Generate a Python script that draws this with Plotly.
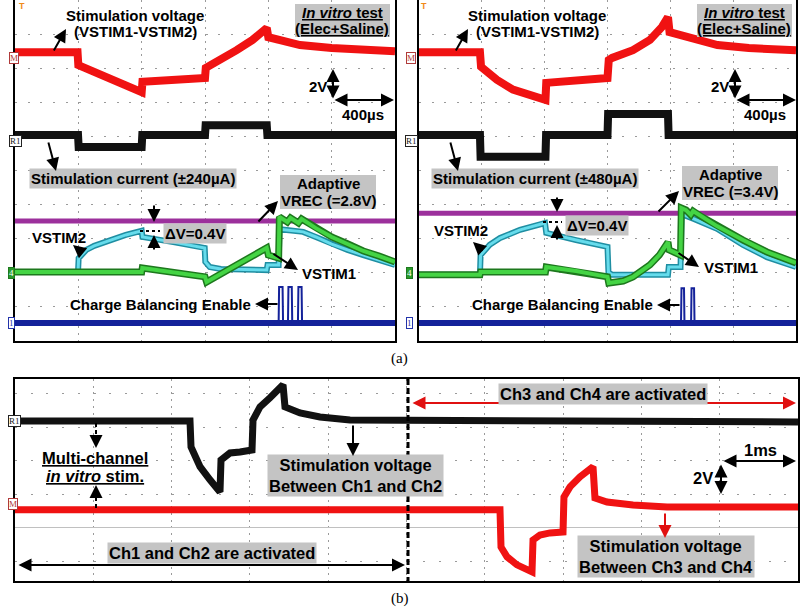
import plotly.graph_objects as go

W, H = 800, 608
SANS = "Liberation Sans, Arial, sans-serif"
SERIF = "Liberation Serif, Times New Roman, serif"
GREY_BOX = "#c4c4c4"

# ---------- (a) left panel : +-240uA   (time in us, level in scope divisions)
t_span = [0, 2400]

t_a1_vout = [0, 395, 400, 500, 600, 700, 800, 805, 1000, 1200, 1205, 1300, 1400, 1500, 1590,
             1600, 1700, 1800, 2000, 2200, 2400]
v_a1_vout = [8.47, 8.47, 8.09, 7.89, 7.71, 7.51, 7.30, 7.60, 7.65, 7.71, 8.01, 8.24, 8.53, 8.83, 9.18,
             8.91, 8.77, 8.68, 8.59, 8.53, 8.50]

t_a1_cur = [0, 398, 402, 800, 804, 1200, 1204, 1590, 1594, 2400]
v_a1_cur = [6.04, 6.04, 5.69, 5.69, 6.04, 6.04, 6.33, 6.33, 6.04, 6.04]

v_a1_vrec = 3.52

t_a1_vstim2 = [0, 398, 402, 450, 500, 600, 700, 800, 805, 1000, 1198, 1202, 1230, 1300, 1590, 1595,
               1665, 1670, 1820, 1900, 2000, 2100, 2200, 2300, 2400]
v_a1_vstim2 = [2.02, 2.02, 2.43, 2.67, 2.79, 2.96, 3.11, 3.23, 3.05, 2.90, 2.73, 2.32, 2.17, 2.11, 2.08, 2.23,
               2.23, 3.28, 3.20, 3.05, 2.84, 2.67, 2.52, 2.38, 2.23]

t_a1_vstim1 = [0, 800, 804, 1000, 1200, 1210, 1300, 1400, 1500, 1590, 1600, 1665, 1670, 1720, 1740,
               1790, 1810, 1830, 1900, 2000, 2100, 2200, 2300, 2400]
v_a1_vstim1 = [2.02, 2.02, 2.14, 2.02, 1.88, 1.73, 1.96, 2.23, 2.49, 2.73, 2.52, 2.43, 3.64, 3.49, 3.61,
               3.46, 3.58, 3.52, 3.31, 3.05, 2.85, 2.64, 2.49, 2.32]

v_a1_en_low = 0.53
t_a1_en = [1640, 1665, 1668, 1690, 1693, 1724, 1727, 1748, 1751, 1787, 1790, 1810, 1813, 1840]
v_a1_en = [0.53, 0.53, 1.58, 1.58, 0.53, 0.53, 1.58, 1.58, 0.53, 0.53, 1.58, 1.58, 0.53, 0.53]

# ---------- (a) right panel : +-480uA
t_a2_vout = [0, 388, 395, 496, 598, 725, 805, 810, 1000, 1200, 1208, 1229, 1362, 1470, 1547, 1585,
             1595, 1725, 1900, 2100, 2400]
v_a2_vout = [8.47, 8.47, 8.04, 7.66, 7.37, 7.16, 7.07, 7.57, 7.65, 7.71, 8.24, 8.30, 8.53, 8.83, 9.21, 9.50,
             9.06, 8.89, 8.68, 8.59, 8.53]

t_a2_cur = [0, 388, 392, 805, 809, 1200, 1204, 1585, 1589, 2400]
v_a2_cur = [6.04, 6.04, 5.40, 5.40, 6.04, 6.04, 6.66, 6.66, 6.04, 6.04]

v_a2_vrec = 3.75

t_a2_vstim2 = [0, 388, 392, 450, 516, 643, 802, 810, 1000, 1200, 1206, 1230, 1585, 1590, 1665, 1672,
               1750, 1897, 2063, 2215, 2400]
v_a2_vstim2 = [1.94, 1.94, 2.52, 2.82, 3.02, 3.26, 3.46, 3.17, 2.96, 2.76, 2.02, 1.94, 1.94, 2.17, 2.17, 3.72,
               3.58, 3.29, 2.82, 2.46, 2.17]

t_a2_vstim1 = [0, 388, 392, 805, 810, 1000, 1200, 1208, 1300, 1362, 1470, 1530, 1585, 1592, 1665, 1670,
               1700, 1730, 1745, 1800, 1897, 2063, 2215, 2400]
v_a2_vstim1 = [1.94, 1.94, 2.02, 2.02, 2.17, 2.05, 1.88, 1.70, 1.76, 1.88, 2.23, 2.52, 2.90, 2.67, 2.52, 3.90,
               3.84, 3.70, 3.81, 3.64, 3.37, 2.96, 2.61, 2.29]

v_a2_en_low = 0.53
t_a2_en = [1640, 1668, 1671, 1687, 1690, 1732, 1735, 1751, 1754, 1780]
v_a2_en = [0.53, 0.53, 1.55, 1.55, 0.53, 0.53, 1.55, 1.55, 0.53, 0.53]

# ---------- (b) multi-channel : time in ms, level in divisions (0 = centre axis)
t_b_ch12 = [0, 2.235, 2.248, 2.363, 2.490, 2.618, 2.631, 2.746, 2.874, 3.027, 3.040, 3.129, 3.257, 3.423,
            3.448, 3.640, 3.895, 4.278, 10]
v_b_ch12 = [3.18, 3.18, 2.41, 1.82, 1.43, 1.07, 2.02, 2.23, 2.26, 2.32, 3.21, 3.60, 3.87, 4.26,
            3.60, 3.42, 3.30, 3.21, 3.15]

t_b_ch34 = [0, 6.194, 6.207, 6.284, 6.411, 6.603, 6.616, 6.705, 6.833, 6.999, 7.011, 7.088, 7.216, 7.382,
            7.407, 7.561, 7.893, 8.327, 10]
v_b_ch34 = [0.54, 0.54, -0.57, -0.86, -1.10, -1.31, -0.36, -0.21, -0.15, -0.12, 0.92, 1.22, 1.52, 1.82,
            0.89, 0.77, 0.68, 0.62, 0.62]

fig = go.Figure()


def add_line(t, v, ax, color, width):
    fig.add_trace(go.Scatter(
        x=t, y=v, xaxis='x' + ax, yaxis='y' + ax, mode='lines',
        line=dict(color=color, width=width), hoverinfo='skip', showlegend=False
    ))


def add_level(level, ax, color, width):
    add_line(t_span, [level, level], ax, color, width)


RED, BLACK, MAG, BLUE = '#f01212', '#111111', '#9c309c', '#14229a'
CYAN, CYAN_EDGE = '#66dcec', '#1f8ea2'
GREEN, GREEN_EDGE = '#44d444', '#1d781d'

# panel a-left traces
add_level(v_a1_vrec, '', MAG, 5)
add_line(t_a1_vstim2, v_a1_vstim2, '', CYAN_EDGE, 6)
add_line(t_a1_vstim2, v_a1_vstim2, '', CYAN, 3)
add_line(t_a1_vstim1, v_a1_vstim1, '', GREEN_EDGE, 7)
add_line(t_a1_vstim1, v_a1_vstim1, '', GREEN, 4)
add_level(v_a1_en_low, '', BLUE, 6)
add_line(t_a1_en, v_a1_en, '', BLUE, 2)
add_line(t_a1_vout, v_a1_vout, '', RED, 8)
add_line(t_a1_cur, v_a1_cur, '', BLACK, 8)

# panel a-right traces
add_level(v_a2_vrec, '2', MAG, 5)
add_line(t_a2_vstim2, v_a2_vstim2, '2', CYAN_EDGE, 6)
add_line(t_a2_vstim2, v_a2_vstim2, '2', CYAN, 3)
add_line(t_a2_vstim1, v_a2_vstim1, '2', GREEN_EDGE, 7)
add_line(t_a2_vstim1, v_a2_vstim1, '2', GREEN, 4)
add_level(v_a2_en_low, '2', BLUE, 6)
add_line(t_a2_en, v_a2_en, '2', BLUE, 2)
add_line(t_a2_vout, v_a2_vout, '2', RED, 8)
add_line(t_a2_cur, v_a2_cur, '2', BLACK, 8)

# panel b traces
add_line(t_b_ch12, v_b_ch12, '3', BLACK, 7)
add_line(t_b_ch34, v_b_ch34, '3', RED, 7)


def dom_x(x0, x1):
    return [x0 / W, x1 / W]


def dom_y(y_top, y_bot):
    return [1 - y_bot / H, 1 - y_top / H]


def xax(domain, anchor, rng, dtick, dash, mirror):
    return dict(domain=domain, anchor=anchor, range=rng, dtick=dtick, tick0=0,
                showgrid=True, gridcolor='#9a9a9a', gridwidth=1.2, griddash=dash,
                showline=True, linecolor='black', linewidth=2, mirror=mirror,
                showticklabels=False, ticks='', zeroline=False, fixedrange=True)


fig.update_layout(
    width=W, height=H,
    margin=dict(l=0, r=0, t=0, b=0),
    paper_bgcolor='white', plot_bgcolor='white',
    xaxis=xax(dom_x(15, 395), 'y', [0, 2400], 400, '2px,4.8px', False),
    yaxis=xax(dom_y(0, 341), 'x', [0, 10], 1, '2px,10.7px', True),
    xaxis2=xax(dom_x(419, 796), 'y2', [0, 2400], 400, '2px,4.8px', False),
    yaxis2=xax(dom_y(0, 341), 'x2', [0, 10], 1, '2px,10.7px', True),
    xaxis3=xax(dom_x(15, 798), 'y3', [0, 10], 1, '2px,4.7px', True),
    yaxis3=xax(dom_y(379, 581), 'x3', [-1.58, 4.43], 1, '2px,13.7px', True),
)
fig.update_yaxes(zeroline=True, zerolinecolor='#c0c0c0', zerolinewidth=1, selector=dict(anchor='x3'))


def text(x, y, s, size=15, bg=None, width=None, bold=True, family=SANS, color='black'):
    fig.add_annotation(
        x=x / W, y=1 - y / H, xref='paper', yref='paper', showarrow=False,
        text='<b>%s</b>' % s if bold else s,
        font=dict(family=family, size=size, color=color),
        bgcolor=bg, width=width, borderpad=1, xanchor='center', yanchor='middle'
    )


def box(x0, y0, x1, y1):
    fig.add_shape(type='rect', xref='paper', yref='paper',
                  x0=x0 / W, y0=1 - y1 / H, x1=x1 / W, y1=1 - y0 / H,
                  fillcolor=GREY_BOX, line=dict(width=0), layer='above')


def arrow(x0, y0, x1, y1, color='black', width=2, both=False):
    fig.add_annotation(
        x=x1 / W, y=1 - y1 / H, xref='paper', yref='paper',
        ax=x0 - x1, ay=y0 - y1, axref='pixel', ayref='pixel', text='',
        showarrow=True, arrowhead=2, arrowsize=1.3, arrowwidth=width, arrowcolor=color,
        arrowside='end+start' if both else 'end', startarrowhead=2, startarrowsize=1.3
    )


def seg(x0, y0, x1, y1, color='black', width=2, dash='dash'):
    fig.add_shape(type='line', xref='paper', yref='paper',
                  x0=x0 / W, y0=1 - y0 / H, x1=x1 / W, y1=1 - y1 / H,
                  line=dict(color=color, width=width, dash=dash))


def chan(x, y, s, color, fill='white', fcolor=None):
    fig.add_annotation(x=x / W, y=1 - y / H, xref='paper', yref='paper', showarrow=False,
                       text=s, font=dict(family=SERIF, size=9, color=fcolor or color),
                       bgcolor=fill, bordercolor=color, borderwidth=1, borderpad=0)


def panel_a(dx, cur_txt, vrec_txt, y_adapt, dv_y, y_vs2, y_vs1):
    text(135 + dx, 15, 'Stimulation voltage')
    text(135 + dx, 31, '(VSTIM1-VSTIM2)')
    arrow(53 + dx, 52, 66 + dx, 29)
    box(295 + dx, 4, 390 + dx, 37)
    text(342 + dx, 12, '<u><i>In vitro</i> test</u>')
    text(342 + dx, 28.5, '<u>(Elec+Saline)</u>')
    text(318 + dx, 87, '2V')
    arrow(333 + dx, 100, 333 + dx, 69, both=True)
    arrow(333 + dx, 100, 394 + dx, 100, both=True)
    text(363 + dx, 114, '400µs')
    text(133 + dx, 178, cur_txt, bg=GREY_BOX)
    arrow(48 + dx, 141, 56 + dx, 171)
    box(280 + dx, y_adapt - 9, 376 + dx, y_adapt + 25)
    text(328 + dx, y_adapt, 'Adaptive')
    text(328 + dx, y_adapt + 16.5, vrec_txt)
    text(195 + dx, dv_y, 'ΔV=0.4V', bg=GREY_BOX)
    text(59 + dx, y_vs2, 'VSTIM2')
    text(329 + dx, y_vs1, 'VSTIM1')
    text(160 + dx, 304, 'Charge Balancing Enable')


# ---- annotations (a) left
panel_a(0, 'Stimulation current (±240µA)', 'VREC (=2.8V)', 184, 233, 237, 273)
arrow(257, 223, 278, 201)
arrow(154, 204, 154, 222)
arrow(154, 251, 154, 235)
seg(140, 231, 160, 231, width=2, dash='3px,3px')
arrow(84, 254, 73, 245)
arrow(272, 253, 298, 270)
arrow(279, 304, 255, 304)

# ---- annotations (a) right
panel_a(402, 'Stimulation current (±480µA)', 'VREC (=3.4V)', 175, 225, 230, 267)
arrow(657, 213, 679, 191)
arrow(557, 196, 557, 212)
arrow(557, 241, 557, 225)
seg(543, 222, 562, 222, width=2, dash='3px,3px')
arrow(484, 252, 473, 242)
arrow(677, 252, 699, 267)
arrow(681, 305, 657, 305)

# ---- channel markers
for dx in (0, 402):
    chan(9 + dx, 52, 'M', '#b03a3a')
    chan(9 + dx, 135, 'R1', '#222222')
    chan(8 + dx, 273, '4', '#1d781d', fill='#2a9a2a', fcolor='white')
    chan(8 + dx, 323, '1', '#2233aa')
    text(22 + dx, 6, 'T', size=9, color='#f08a1a')
chan(8, 427, 'R1', '#222222')
chan(8, 510, 'M', '#b03a3a')

# ---- annotations (b)
seg(408, 379, 408, 581, color='black', width=3, dash='6px,3px')
arrow(411, 403, 796, 403, color='#e01010', both=True)
text(603, 394, 'Ch3 and Ch4 are activated', size=16.5, bg=GREY_BOX)
arrow(17, 565, 405, 565, both=True)
text(212, 553, 'Ch1 and Ch2 are activated', size=16.5, bg=GREY_BOX)
text(760, 450, '1ms', size=16.5)
arrow(722, 461, 796, 461, both=True)
text(703, 478, '2V', size=16.5)
arrow(721, 463, 721, 494, both=True)
text(95, 458, '<u>Multi-channel</u>', size=16.5)
text(95, 476, '<u><i>in vitro</i> stim.</u>', size=16.5)
seg(96, 423, 96, 440, width=2, dash='4px,3px')
arrow(96, 439, 96, 448)
seg(96, 508, 96, 493, width=2, dash='4px,3px')
arrow(96, 494, 96, 485)
text(355, 475, 'Stimulation voltage<br>Between Ch1 and Ch2', size=16.5, bg=GREY_BOX)
arrow(353, 424, 353, 456)
text(666, 556, 'Stimulation voltage<br>Between Ch3 and Ch4', size=16.5, bg=GREY_BOX)
arrow(665, 512, 665, 538, color='#e01010')

# ---- captions
text(399, 358, '(a)', size=15, bold=False, family=SERIF)
text(400, 598, '(b)', size=15, bold=False, family=SERIF)

fig.write_html("out.html", config={'displayModeBar': False},
               post_script="document.body.style.margin='0';")
